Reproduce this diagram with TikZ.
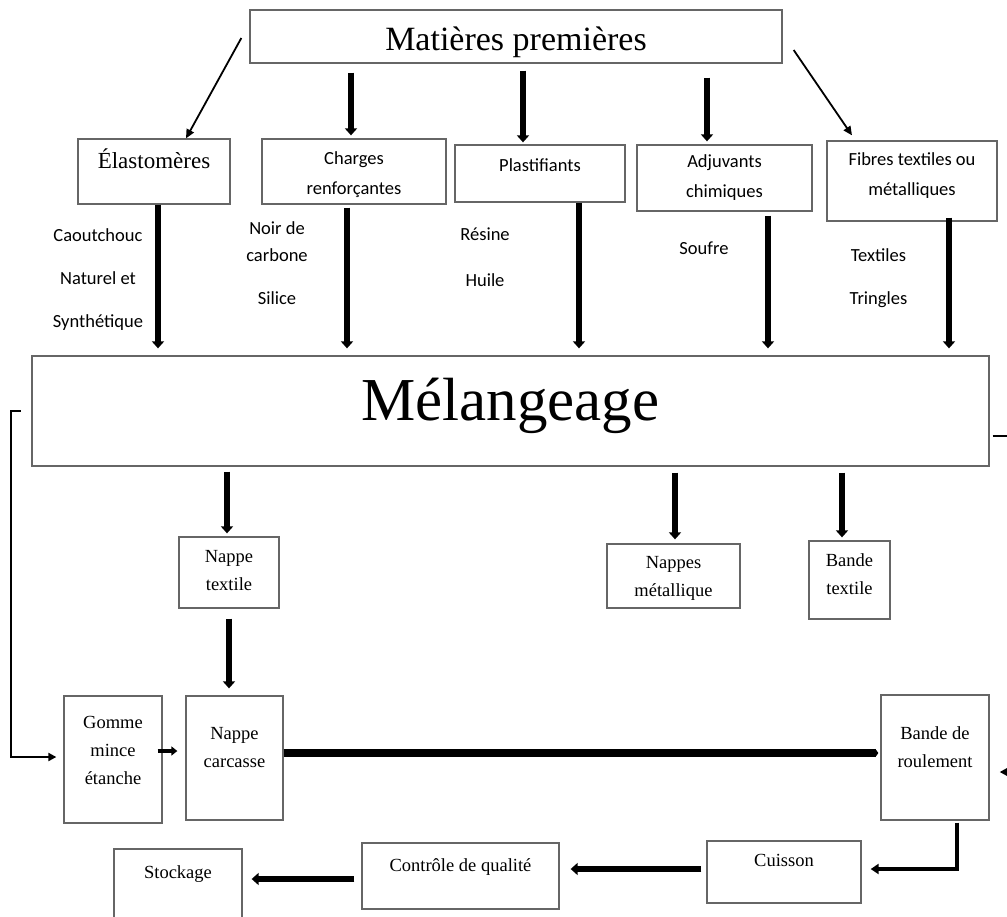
\documentclass[tikz,border=0pt]{standalone}
\usepackage{fontspec}
\setmainfont{Liberation Serif}
\newfontfamily\calibri{Carlito}
\usetikzlibrary{arrows.meta}
\definecolor{boxline}{rgb}{0.4,0.4,0.4}

\begin{document}
\begin{tikzpicture}[x=1pt,y=-1pt,
  box/.style 2 args={draw=boxline, line width=1.3pt, inner sep=0pt,
    minimum width=#1, minimum height=#2},
  stxt/.style={anchor=center, inner sep=0pt, align=center, yshift=#1,
    font=\calibri\fontsize{18.5}{30}\selectfont},
  rtxt/.style={anchor=center, inner sep=0pt, align=center, yshift=#1,
    font=\fontsize{18.5}{28}\selectfont},
  note/.style={inner sep=0pt, align=center,
    font=\calibri\fontsize{18.5}{43}\selectfont},
  bigarrow/.style={line width=5.5pt, -{Triangle[length=7pt,width=12pt]}},
  thinarrow/.style={line width=1.8pt, -{Triangle[length=9pt,width=8pt]}},
  loopline/.style={line width=2pt, -{Triangle[length=8pt,width=8pt]}}]
\useasboundingbox (0,0) rectangle (1007,916);

% raw materials
\node[box={532pt}{53pt}, label={[rtxt=-6pt, font=\fontsize{34}{40}\selectfont]center:Matières premières}] (mp) at (516,36.5) {};
\node[box={152pt}{65pt}, label={[rtxt=13pt, font=\fontsize{23}{28}\selectfont]center:Élastomères}] (elast) at (154,171.5) {};
\node[box={184pt}{65pt}, label={[stxt=-3pt]center:Charges\\renforçantes}] (charges) at (354,171.5) {};
\node[box={170pt}{57pt}, label={[stxt=8pt]center:Plastifiants}] (plast) at (540,173.5) {};
\node[box={175pt}{66pt}, label={[stxt=0pt]center:Adjuvants\\chimiques}] (adj) at (724.5,178) {};
\node[box={170pt}{80pt}, label={[stxt=5pt]center:Fibres textiles ou\\métalliques}] (fib) at (912,181) {};

\node[note] (caou) at (98,280) {Caoutchouc\\Naturel et\\Synthétique};
\node[note, font=\calibri\fontsize{18.5}{27}\selectfont] (noir) at (277,263) {Noir de\\carbone\\[16pt]Silice};
\node[note, font=\calibri\fontsize{18.5}{46}\selectfont] (resine) at (485,257) {Résine\\Huile};
\node[note] (soufre) at (704,248) {Soufre};
\node[note] (textiles) at (878.5,278) {Textiles\\Tringles};

% mixing
\node[box={957pt}{110pt}, label={[rtxt=5.5pt, font=\fontsize{61}{70}\selectfont]center:Mélangeage}] (mel) at (510.5,411) {};

\node[box={100pt}{71pt}, label={[rtxt=2pt]center:Nappe\\textile}] (nt) at (229,572.5) {};
\node[box={133pt}{64pt}, label={[rtxt=-2pt]center:Nappes\\métallique}] (nm) at (673.5,576) {};
\node[box={81pt}{78pt}, label={[rtxt=6pt]center:Bande\\textile}] (bt) at (849.5,580) {};

% assembly
\node[box={98pt}{127pt}, label={[rtxt=9.5pt]center:Gomme\\mince\\étanche}] (gomme) at (113,759.5) {};
\node[box={97pt}{124pt}, label={[rtxt=10.5pt]center:Nappe\\carcasse}] (nc) at (234.5,758) {};
\node[box={108pt}{125pt}, label={[rtxt=10pt]center:Bande de\\roulement}] (br) at (935,757.5) {};
\node[box={154pt}{62pt}, label={[rtxt=12pt]center:Cuisson}] (cu) at (784,872) {};
\node[box={197pt}{66pt}, label={[rtxt=9pt]center:Contrôle de qualité}] (ctrl) at (460.5,876) {};
\node[box={128pt}{76pt}, label={[rtxt=13pt]center:Stockage}] (stock) at (178,887) {};

% arrows from raw materials
\draw[thinarrow] ([xshift=-8pt,yshift=-1.5pt]mp.west) -- ([xshift=32pt]elast.north);
\draw[bigarrow, shorten <=9pt, shorten >=3pt] ([xshift=-3pt]charges.north |- mp.south) -- ([xshift=-3pt]charges.north);
\draw[bigarrow, shorten <=7pt, shorten >=2pt] ([xshift=-17pt]plast.north |- mp.south) -- ([xshift=-17pt]plast.north);
\draw[bigarrow, shorten <=14pt, shorten >=3pt] ([xshift=-17.5pt]adj.north |- mp.south) -- ([xshift=-17.5pt]adj.north);
\draw[thinarrow] ([xshift=11pt,yshift=-13.5pt]mp.east) -- ([xshift=-60pt,yshift=5pt]fib.north);

% into mixing
\draw[bigarrow, shorten >=7pt] ([xshift=4pt]elast.south) -- ([xshift=4pt]elast.south |- mel.north);
\draw[bigarrow, shorten <=3pt, shorten >=7pt] ([xshift=-7pt]charges.south) -- ([xshift=-7pt]charges.south |- mel.north);
\draw[bigarrow, shorten >=7pt] ([xshift=39pt]plast.south) -- ([xshift=39pt]plast.south |- mel.north);
\draw[bigarrow, shorten <=4pt, shorten >=7pt] ([xshift=43.5pt]adj.south) -- ([xshift=43.5pt]adj.south |- mel.north);
\draw[bigarrow, shorten <=-4pt, shorten >=7pt] ([xshift=37pt]fib.south) -- ([xshift=37pt]fib.south |- mel.north);

% out of mixing
\draw[bigarrow, shorten <=5pt, shorten >=3pt] ([xshift=-2pt]nt.north |- mel.south) -- ([xshift=-2pt]nt.north);
\draw[bigarrow, shorten <=6pt, shorten >=4pt] ([xshift=1.5pt]nm.north |- mel.south) -- ([xshift=1.5pt]nm.north);
\draw[bigarrow, shorten <=6pt, shorten >=3pt] ([xshift=-7.5pt]bt.north |- mel.south) -- ([xshift=-7.5pt]bt.north);
\draw[bigarrow, shorten <=10pt, shorten >=7pt] ([xshift=-5.5pt]nc.north |- nt.south) -- ([xshift=-5.5pt]nc.north);

% loops
\draw[loopline, line cap=rect] ([xshift=-11pt]mel.west) -- ++(-9,0) |- ([xshift=-7pt,yshift=2.5pt]gomme.west);
\draw[loopline] ([xshift=3pt,yshift=-25pt]mel.east) -- ++(25,0) |- ([xshift=10pt,yshift=-14.5pt]br.east);

% assembly line
\draw[line width=3.5pt, -{Triangle[length=6pt,width=9pt]}] ([xshift=-5pt,yshift=8.5pt]gomme.east) -- ([xshift=-8pt,yshift=8.5pt]gomme.east -| nc.west);
\draw[line width=7.5pt, -{Triangle[length=3pt,width=8pt]}, shorten >=2pt] ([yshift=5pt]nc.east) -- ([yshift=5pt]nc.east -| br.west);
\draw[line width=3.5pt, -{Triangle[length=8pt,width=10pt]}, shorten <=2pt] ([xshift=22pt]br.south) |- ([xshift=9pt,yshift=3pt]cu.east);
\draw[bigarrow, shorten <=5pt, shorten >=11pt] ([yshift=3pt]cu.west) -- ([yshift=3pt]cu.west -| ctrl.east);
\draw[bigarrow, shorten <=7pt, shorten >=9pt] ([yshift=-3pt]ctrl.west) -- ([yshift=-3pt]ctrl.west -| stock.east);
\end{tikzpicture}
\end{document}
